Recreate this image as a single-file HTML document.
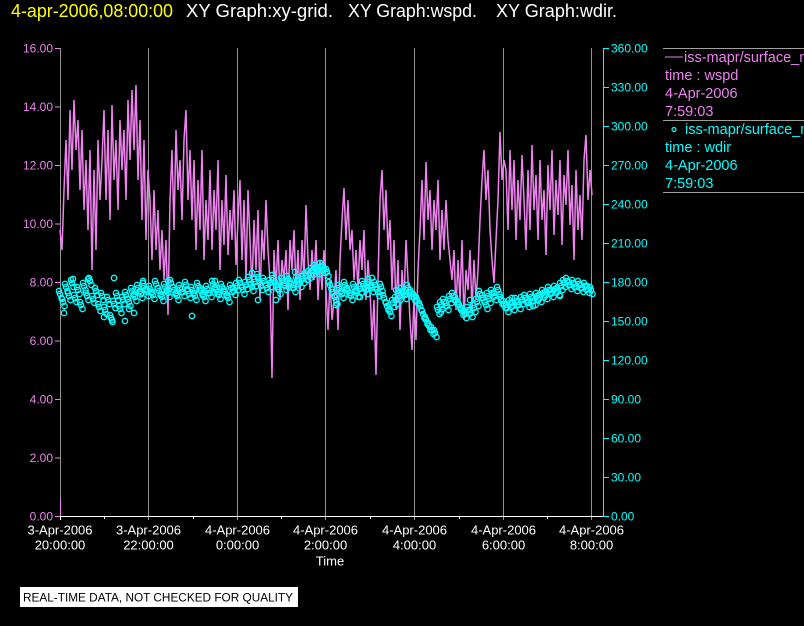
<!DOCTYPE html>
<html><head><meta charset="utf-8"><style>
html,body{margin:0;padding:0;background:#000;width:804px;height:626px;overflow:hidden}
svg{display:block;font-family:"Liberation Sans",Arial,sans-serif}
</style></head><body>
<svg width="804" height="626" viewBox="0 0 804 626" xmlns="http://www.w3.org/2000/svg">
<defs>
<marker id="c" markerWidth="8" markerHeight="8" refX="4" refY="4" markerUnits="userSpaceOnUse"><circle cx="4" cy="4" r="2.7" fill="none" stroke="#00ffff" stroke-width="1.3"/></marker>
<polyline id="wp" fill="none" stroke="none" marker-start="url(#c)" marker-mid="url(#c)" marker-end="url(#c)" points="60,294 63,302 66,287 69,296 72,283 75,298 78,290 81,305 84,286 87,296 90,281 93,299 96,291 99,307 102,296 105,310 108,300 111,318 114,304 117,296 120,309 123,300 126,295 129,302 132,291 135,297 138,288 141,294 144,286 147,292 150,289 153,295 156,284 159,291 162,297 165,287 168,293 171,283 174,290 177,296 180,288 183,292 186,285 189,294 192,290 195,296 198,286 201,291 204,297 207,289 210,293 213,284 216,290 219,295 222,287 225,292 228,298 231,288 234,291 237,286 240,283 243,290 246,285 249,280 252,287 255,282 258,277 261,286 264,281 267,288 270,283 273,278 276,285 279,290 282,281 285,286 288,279 291,284 294,288 297,280 300,283 303,279 306,276 309,274 312,271 315,268 318,270 321,266 324,269 327,272 330,285 333,292 336,300 339,288 342,294 345,285 348,291 351,296 354,287 357,293 360,289 363,284 366,290 369,282 372,288 375,285 378,292 381,287 384,298 387,306 390,312 393,303 396,300 399,296 402,291 405,295 408,288 411,293 414,297 417,300 420,306 423,314 426,320 429,326 432,330 435,333 438,310 441,305 444,302 447,306 450,299 453,296 456,300 459,305 462,311 465,314 468,310 471,313 474,308 477,302 480,294 483,298 486,305 489,299 492,293 495,296 498,290 501,300 504,304 507,308 510,303 513,306 516,301 519,305 522,300 525,298 528,303 531,297 534,301 537,296 540,298 543,293 546,295 549,290 552,293 555,289 558,291 561,286 564,283 567,281 570,285 573,283 576,287 579,284 582,288 585,286 588,289 591,290"/>
</defs>
<rect width="804" height="626" fill="#000"/>
<!-- title -->
<text x="11" y="17" font-size="18" fill="#ffff00" textLength="162" lengthAdjust="spacingAndGlyphs">4-apr-2006,08:00:00</text>
<text x="186" y="17" font-size="18" fill="#fff" textLength="147" lengthAdjust="spacingAndGlyphs">XY Graph:xy-grid.</text>
<text x="348" y="17" font-size="18" fill="#fff" textLength="129" lengthAdjust="spacingAndGlyphs">XY Graph:wspd.</text>
<text x="496" y="17" font-size="18" fill="#fff" textLength="121" lengthAdjust="spacingAndGlyphs">XY Graph:wdir.</text>

<!-- grid lines -->
<g stroke="#969696" stroke-width="1">
<line x1="60.5" y1="48" x2="60.5" y2="505"/>
<line x1="148.5" y1="48" x2="148.5" y2="520"/>
<line x1="237.5" y1="48" x2="237.5" y2="520"/>
<line x1="325.5" y1="48" x2="325.5" y2="520"/>
<line x1="414.5" y1="48" x2="414.5" y2="520"/>
<line x1="503.5" y1="48" x2="503.5" y2="520"/>
<line x1="591.5" y1="48" x2="591.5" y2="520"/>
</g>

<!-- wspd line -->
<polyline fill="none" stroke="#ee82ee" stroke-width="1.5" points="60,230 62,250 64,190 66,140 68,200 70,110 72,170 74,100 76,150 78,120 80,190 82,130 84,210 86,160 88,230 90,150 92,270 94,170 96,250 98,140 100,200 102,160 104,110 106,200 108,130 110,220 112,105 114,180 116,140 118,210 120,120 122,170 124,130 126,200 128,100 130,160 132,90 134,150 136,85 138,180 140,120 142,220 144,140 146,240 148,170 150,200 152,260 154,190 156,250 158,210 160,270 162,230 164,280 166,240 168,315 170,200 172,150 174,230 176,130 178,190 180,160 182,220 184,140 186,110 188,200 190,150 192,220 194,160 196,250 198,180 200,230 202,150 204,260 206,200 208,240 210,170 212,250 214,190 216,230 218,160 220,270 222,200 224,245 226,175 228,255 230,210 232,240 234,190 236,265 238,220 240,180 242,260 244,200 246,280 248,190 250,240 252,290 254,220 256,270 258,210 260,300 262,230 264,260 266,200 268,250 270,280 272,378 274,250 276,290 278,240 280,300 282,260 284,280 286,250 288,310 290,240 292,270 294,230 296,290 298,250 300,300 302,240 304,280 306,205 308,260 310,290 312,250 314,280 316,240 318,300 320,260 322,290 324,250 326,290 328,330 330,280 332,320 334,300 336,270 338,330 340,260 342,220 344,188 346,240 348,200 350,250 352,230 354,280 356,250 358,290 360,240 362,270 364,230 366,300 368,260 370,290 372,340 374,300 376,375 378,280 380,200 382,170 384,230 386,190 388,250 390,220 392,290 394,240 396,310 398,260 400,330 402,270 404,300 406,240 408,280 410,320 412,350 414,300 416,340 418,270 420,230 422,180 424,240 426,162 428,220 430,190 432,250 434,200 436,230 438,180 440,260 442,210 444,250 446,200 448,240 450,260 452,280 454,250 456,310 458,260 460,300 462,240 464,320 466,270 468,290 470,250 472,310 474,260 476,300 478,270 480,220 482,180 484,150 486,200 488,170 490,230 492,260 494,283 496,240 498,200 500,132 502,180 504,160 506,170 508,230 510,150 512,210 514,160 516,240 518,180 520,220 522,155 524,200 526,250 528,170 530,230 532,145 534,210 536,175 538,240 540,160 542,220 544,190 546,255 548,165 550,210 552,150 554,235 556,180 558,215 560,160 562,245 564,175 566,205 568,150 570,225 572,185 574,260 576,170 578,230 580,195 582,240 584,160 586,135 588,200 590,170 592,195"/>

<!-- wdir markers -->
<use href="#wp"/>
<use href="#wp" transform="translate(1.5,4)"/>
<use href="#wp" transform="translate(-1,-3)"/>
<polyline fill="none" stroke="none" marker-start="url(#c)" marker-mid="url(#c)" marker-end="url(#c)" points="64,313 73,279 88,279 104,317 112,320 114,278 125,321 129,309 134,313 143,281 168,281 192,316 215,281 252,273 258,300 276,300 295,272 336,305 360,297 372,278 396,290 441,312 470,300 487,293 512,298 533,306 560,296"/>

<!-- axes -->
<line x1="60" y1="516.5" x2="604" y2="516.5" stroke="#fff" stroke-width="1"/>
<line x1="60.5" y1="500" x2="60.5" y2="516" stroke="#ee82ee" stroke-width="1"/>
<line x1="603.5" y1="48" x2="603.5" y2="517" stroke="#00ffff" stroke-width="1"/>
<g stroke="#fff" stroke-width="1">
<line x1="104.5" y1="516" x2="104.5" y2="519"/>
<line x1="193.5" y1="516" x2="193.5" y2="519"/>
<line x1="281.5" y1="516" x2="281.5" y2="519"/>
<line x1="370.5" y1="516" x2="370.5" y2="519"/>
<line x1="459.5" y1="516" x2="459.5" y2="519"/>
<line x1="547.5" y1="516" x2="547.5" y2="519"/>
<line x1="60.5" y1="516" x2="60.5" y2="520"/>
</g>
<g stroke="#ee82ee" stroke-width="1">
<line x1="55" y1="48.5" x2="60" y2="48.5"/>
<line x1="55" y1="107" x2="60" y2="107"/>
<line x1="55" y1="165.5" x2="60" y2="165.5"/>
<line x1="55" y1="224" x2="60" y2="224"/>
<line x1="55" y1="282.5" x2="60" y2="282.5"/>
<line x1="55" y1="341" x2="60" y2="341"/>
<line x1="55" y1="399.5" x2="60" y2="399.5"/>
<line x1="55" y1="458" x2="60" y2="458"/>
<line x1="55" y1="516.5" x2="60" y2="516.5"/>
</g>
<g fill="#ee82ee" font-size="12" text-anchor="end">
<text x="53" y="52.5">16.00</text>
<text x="53" y="111">14.00</text>
<text x="53" y="169.5">12.00</text>
<text x="53" y="228">10.00</text>
<text x="53" y="286.5">8.00</text>
<text x="53" y="345">6.00</text>
<text x="53" y="403.5">4.00</text>
<text x="53" y="462">2.00</text>
<text x="53" y="520.5">0.00</text>
</g>
<g stroke="#00ffff" stroke-width="1">
<line x1="604" y1="48.5" x2="609" y2="48.5"/>
<line x1="604" y1="87.5" x2="609" y2="87.5"/>
<line x1="604" y1="126.5" x2="609" y2="126.5"/>
<line x1="604" y1="165.5" x2="609" y2="165.5"/>
<line x1="604" y1="204.5" x2="609" y2="204.5"/>
<line x1="604" y1="243.5" x2="609" y2="243.5"/>
<line x1="604" y1="282.5" x2="609" y2="282.5"/>
<line x1="604" y1="321.5" x2="609" y2="321.5"/>
<line x1="604" y1="360.5" x2="609" y2="360.5"/>
<line x1="604" y1="399.5" x2="609" y2="399.5"/>
<line x1="604" y1="438.5" x2="609" y2="438.5"/>
<line x1="604" y1="477.5" x2="609" y2="477.5"/>
<line x1="604" y1="516.5" x2="609" y2="516.5"/>
</g>
<g fill="#00ffff" font-size="12">
<text x="611" y="52.5">360.00</text>
<text x="611" y="91.5">330.00</text>
<text x="611" y="130.5">300.00</text>
<text x="611" y="169.5">270.00</text>
<text x="611" y="208.5">240.00</text>
<text x="611" y="247.5">210.00</text>
<text x="611" y="286.5">180.00</text>
<text x="611" y="325.5">150.00</text>
<text x="611" y="364.5">120.00</text>
<text x="611" y="403.5">90.00</text>
<text x="611" y="442.5">60.00</text>
<text x="611" y="481.5">30.00</text>
<text x="611" y="520.5">0.00</text>
</g>
<g fill="#fff" font-size="13" text-anchor="middle">
<text x="60" y="534.5">3-Apr-2006</text><text x="60" y="549.5">20:00:00</text>
<text x="148.5" y="534.5">3-Apr-2006</text><text x="148.5" y="549.5">22:00:00</text>
<text x="237.5" y="534.5">4-Apr-2006</text><text x="237.5" y="549.5">0:00:00</text>
<text x="325.5" y="534.5">4-Apr-2006</text><text x="325.5" y="549.5">2:00:00</text>
<text x="414.5" y="534.5">4-Apr-2006</text><text x="414.5" y="549.5">4:00:00</text>
<text x="503.5" y="534.5">4-Apr-2006</text><text x="503.5" y="549.5">6:00:00</text>
<text x="591.5" y="534.5">4-Apr-2006</text><text x="591.5" y="549.5">8:00:00</text>
<text x="330" y="565.5">Time</text>
</g>

<g stroke="#a0a0a0" stroke-width="1">
<line x1="663" y1="48.5" x2="804" y2="48.5"/>
<line x1="663" y1="120.5" x2="804" y2="120.5"/>
<line x1="663" y1="192.5" x2="804" y2="192.5"/>
</g>
<line x1="665" y1="57" x2="683" y2="57" stroke="#ee82ee" stroke-width="1"/>
<g fill="#ee82ee" font-size="14.5">
<text x="684" y="62">iss-mapr/surface_met</text>
<text x="665" y="80">time : wspd</text>
<text x="665" y="98">4-Apr-2006</text>
<text x="665" y="116">7:59:03</text>
</g>
<circle cx="674" cy="129.5" r="2" fill="none" stroke="#00ffff" stroke-width="1.2"/>
<g fill="#00ffff" font-size="14.5">
<text x="685" y="134">iss-mapr/surface_met</text>
<text x="665" y="152">time : wdir</text>
<text x="665" y="170">4-Apr-2006</text>
<text x="665" y="188">7:59:03</text>
</g>

<rect x="20" y="587" width="278" height="20" fill="#fff"/>
<text x="23" y="601.5" font-size="11.5" fill="#000" textLength="270" lengthAdjust="spacingAndGlyphs">REAL-TIME DATA, NOT CHECKED FOR QUALITY</text>
</svg>
</body></html>
